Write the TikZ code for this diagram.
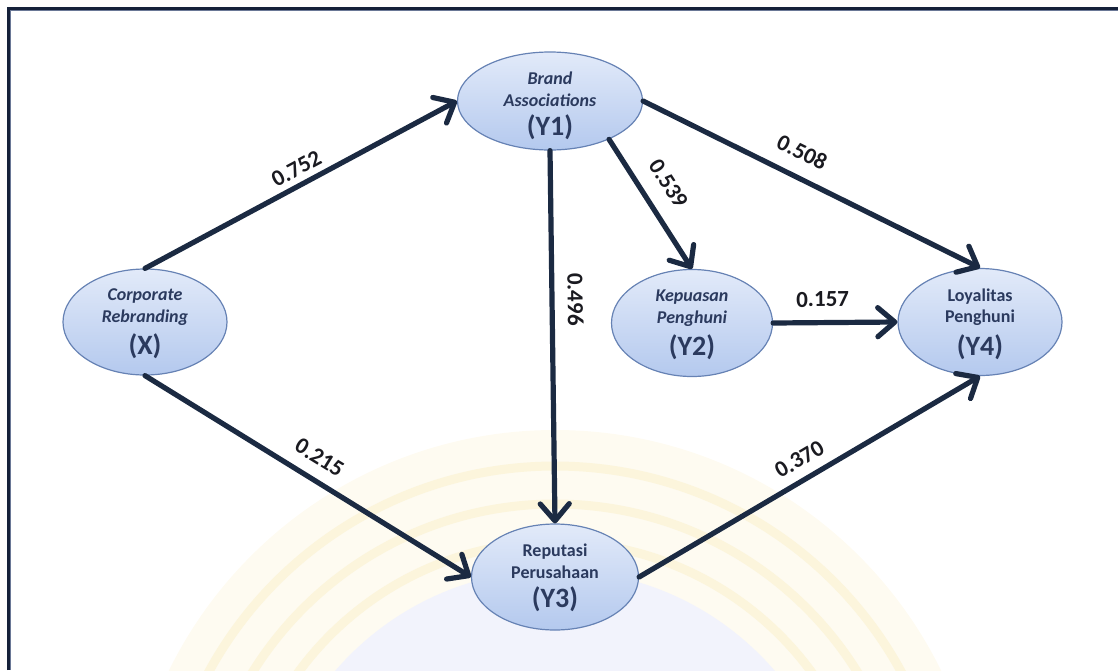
\documentclass[tikz,border=0pt]{standalone}
\usepackage{fontspec}
\setmainfont{Carlito}
\usetikzlibrary{arrows.meta,shapes.geometric}

\definecolor{frameline}{HTML}{15213A}
\definecolor{frameinner}{HTML}{6A7896}
\definecolor{linkcol}{HTML}{1B2A42}
\definecolor{ovalline}{HTML}{6682B4}
\definecolor{ovaltop}{HTML}{E2EAF9}
\definecolor{ovalbot}{HTML}{B4C9EE}
\definecolor{ink}{HTML}{2B3A5E}
\definecolor{labelink}{HTML}{1A1A20}
\definecolor{wmring}{HTML}{FEFBF1}
\definecolor{wmringdark}{HTML}{FCF5DC}
\definecolor{wmblue}{HTML}{F2F3FC}

\newcommand{\tagsize}{\fontsize{28}{28}\selectfont\bfseries\upshape}

\begin{document}
\begin{tikzpicture}[x=1pt,y=-1pt,
  construct/.style={ellipse, draw=ovalline, line width=1.2pt,
    top color=ovaltop, bottom color=ovalbot, inner sep=0pt},
  constructtext/.style={align=center, inner sep=0pt, text=ink,
    font=\fontsize{18}{21.5}\selectfont\bfseries},
  link/.style={draw=linkcol, line width=5.2pt, line cap=round,
    -{Straight Barb[length=17pt,width=29pt,round]}},
  edgelabel/.style={sloped, inner sep=0pt, text=labelink,
    font=\fontsize{23}{23}\selectfont\bfseries}
]
\useasboundingbox (0,0) rectangle (1118,670);

% faint emblem in the background
\begin{scope}
  \clip (11,11) rectangle (1118,670);
  \fill[wmring] (555,860) circle (430);
  \foreach \r in {318,356,394}
    \draw[wmringdark, line width=9pt] (555,860) circle (\r);
  \fill[wmblue] (555,860) circle (290);
\end{scope}

% page frame
\draw[frameline, line width=2.7pt] (8.3,670) -- (8.3,8.3) -- (1118,8.3);
\draw[frameinner, line width=1.2pt] (10.4,670) -- (10.4,10.4) -- (1118,10.4);

% constructs
\node[construct, minimum width=164pt, minimum height=106pt] (X)  at (145,322) {};
\node[construct, minimum width=185pt, minimum height=98pt]  (Y1) at (550,101) {};
\node[construct, minimum width=161pt, minimum height=107pt] (Y2) at (692,323) {};
\node[construct, minimum width=167pt, minimum height=106pt] (Y3) at (555,577) {};
\node[construct, minimum width=164pt, minimum height=107pt] (Y4) at (980,322) {};

\node[constructtext] (Xt)  at (145,324) {\itshape Corporate\\\itshape Rebranding\\[8pt]{\tagsize (X)}};
\node[constructtext] (Y1t) at (550,106) {\itshape Brand\\\itshape Associations\\[8pt]{\tagsize (Y1)}};
\node[constructtext] (Y2t) at (692,325) {\itshape Kepuasan\\\itshape Penghuni\\[8pt]{\tagsize (Y2)}};
\node[constructtext] (Y3t) at (555,578) {Reputasi\\Perusahaan\\[8pt]{\tagsize (Y3)}};
\node[constructtext] (Y4t) at (980,324) {Loyalitas\\Penghuni\\[8pt]{\tagsize (Y4)}};

% paths with coefficients
\draw[link] (X.north) -- node[edgelabel, pos=0.51, above=6pt] (c1) {0.752} (Y1.west);
\draw[link] (X.south) -- node[edgelabel, pos=0.50, above=12pt] (c2) {0.215} (Y3.west);
\draw[link] (Y1.east) -- node[edgelabel, pos=0.44, above=14pt] (c3) {0.508} (Y4.north);
\draw[link] (Y1.-33) -- node[edgelabel, pos=0.45, above=16pt] (c4) {0.539} (Y2.north);
\draw[link] (Y1.south) -- node[edgelabel, pos=0.40, above=13pt] (c5) {0.496} (Y3.north);
\draw[link] (Y2.east) -- node[edgelabel, pos=0.40, above=13pt] (c6) {0.157} (Y4.west);
\draw[link] (Y3.east) -- node[edgelabel, pos=0.50, above=10pt] (c7) {0.370} (Y4.south);
\end{tikzpicture}
\end{document}
